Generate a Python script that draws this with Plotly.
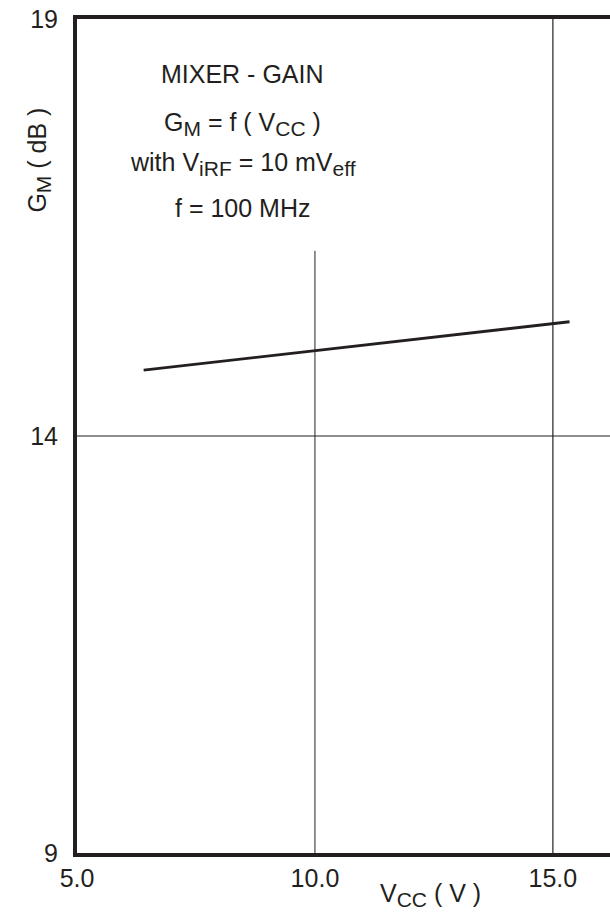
import plotly.graph_objects as go

# Data
vcc = [6.4, 15.35]          # V
gain = [14.79, 15.37]       # dB
x_ticks = [5.0, 10.0, 15.0]
x_ticklabels = ["5.0", "10.0", "15.0"]
y_ticks = [9, 14, 19]
y_ticklabels = ["9", "14", "19"]

INK = "#231f20"
FONT = "Liberation Sans, Arial, Helvetica, sans-serif"


def sub(s):
    return '<sub><span style="font-size:21px">%s</span></sub>' % s


fig = go.Figure()
fig.add_trace(go.Scatter(x=vcc, y=gain, mode="lines",
                         line=dict(color=INK, width=2.8), showlegend=False,
                         hoverinfo="skip"))

# grid lines (x=10 is interrupted by the caption block)
shapes = [
    dict(type="line", xref="x", yref="y", x0=5, x1=16.2, y0=14, y1=14,
         line=dict(color=INK, width=1), layer="below"),
    dict(type="line", xref="x", yref="y", x0=15, x1=15, y0=9, y1=19,
         line=dict(color=INK, width=1.2), layer="below"),
    dict(type="line", xref="x", yref="y", x0=10, x1=10, y0=9, y1=16.22,
         line=dict(color=INK, width=1), layer="below"),
]

cx = 0.311
lines = [
    ("MIXER - GAIN", 0.934),
    ("G" + sub("M") + " = f ( V" + sub("CC") + " )", 0.874),
    ("with V" + sub("iRF") + " = 10 mV" + sub("eff"), 0.826),
    ("f = 100 MHz", 0.773),
]
annotations = []
for txt, yy in lines:
    annotations.append(dict(text=txt, xref="paper", yref="paper", x=cx, y=yy,
                            xanchor="center", yanchor="middle", showarrow=False,
                            font=dict(family=FONT, size=25, color=INK)))

annotations.append(dict(text="V" + sub("CC") + " ( V )", xref="paper", yref="paper",
                        x=(430 - 77) / 533, y=-0.05, xanchor="center", yanchor="middle",
                        showarrow=False, font=dict(family=FONT, size=25, color=INK)))
annotations.append(dict(text="G" + sub("M") + " ( dB )", xref="paper", yref="paper",
                        x=-0.072, y=(853 - 160) / 834, xanchor="center", yanchor="middle",
                        textangle=-90, showarrow=False,
                        font=dict(family=FONT, size=25, color=INK)))

fig.update_layout(
    width=610, height=917,
    margin=dict(l=77, r=0, t=19, b=64),
    paper_bgcolor="white", plot_bgcolor="white",
    shapes=shapes, annotations=annotations,
    xaxis=dict(range=[5, 16.2], tickvals=x_ticks, ticktext=x_ticklabels,
               showgrid=False, zeroline=False, showline=True, mirror=True,
               linecolor=INK, linewidth=4, ticks="", ticklabelstandoff=0,
               tickfont=dict(family=FONT, size=25, color=INK)),
    yaxis=dict(range=[9, 19], tickvals=y_ticks, ticktext=y_ticklabels,
               showgrid=False, zeroline=False, showline=True, mirror=False,
               linecolor=INK, linewidth=4, ticks="", ticklabelstandoff=10,
               tickfont=dict(family=FONT, size=25, color=INK)),
)

fig.write_html("out.html")
